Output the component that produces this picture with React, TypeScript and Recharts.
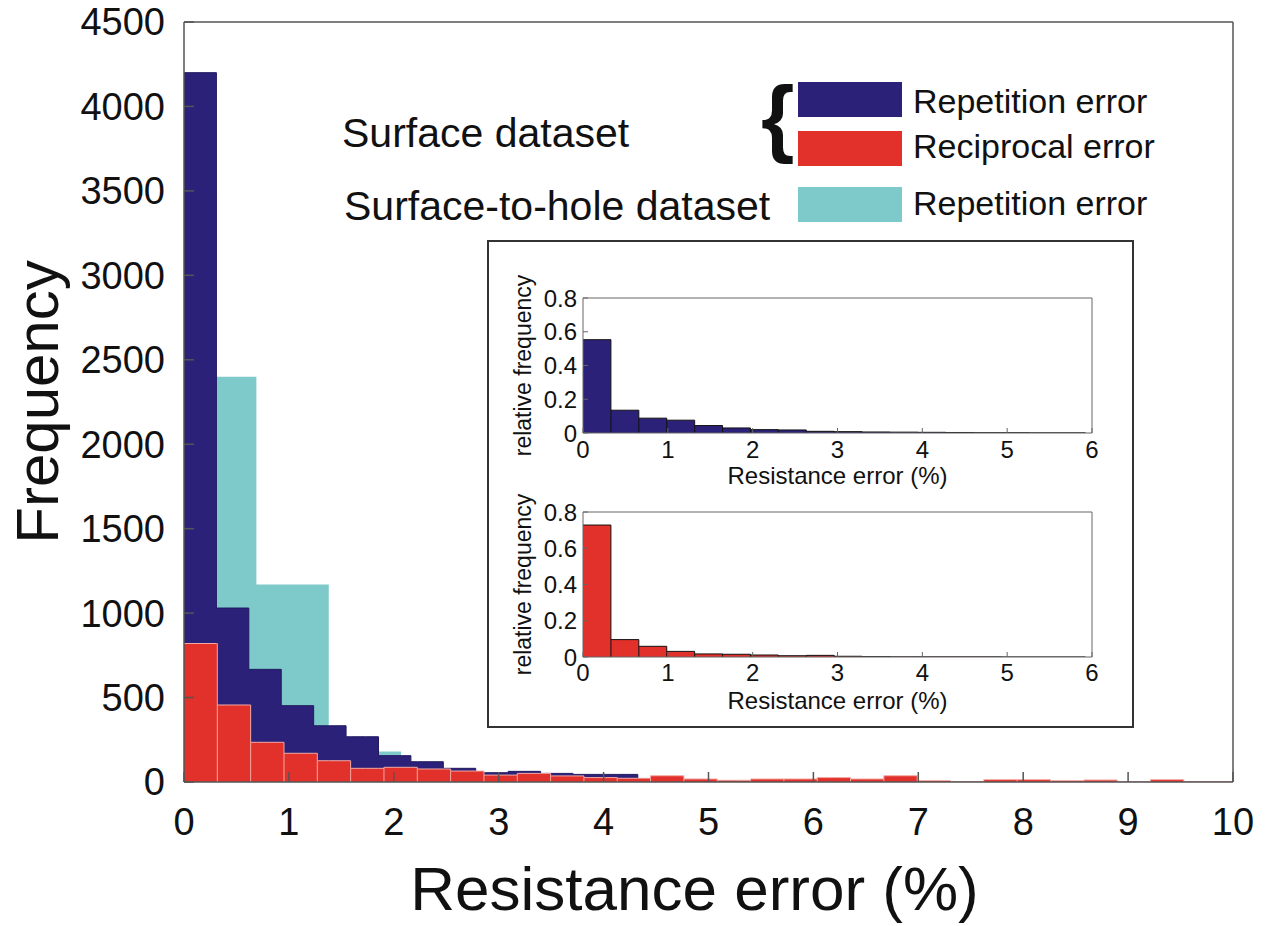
import React from "react";
import { ComposedChart, Area, XAxis, YAxis, ReferenceLine } from "recharts";

const FONT = '"Liberation Sans", Arial, Helvetica, sans-serif';
const BLUE = "#2b2178";
const RED = "#e2302a";
const CYAN = "#7ecaca";
const AXIS = "#555";

// main plot: counts per bin
const xTicks = [0, 1, 2, 3, 4, 5, 6, 7, 8, 9, 10];
const yTicks = [0, 500, 1000, 1500, 2000, 2500, 3000, 3500, 4000, 4500];

const blueBinWidth = 0.309;
const blueCounts = [4200, 1030, 667, 452, 333, 268, 156, 120, 81, 55, 63, 51, 45, 45, 20, 15, 8, 6, 5, 4, 3];

const redBinWidth = 0.3177;
const redCounts = [
  820, 456, 235, 170, 126, 81, 87, 77, 65, 41, 51, 36, 26, 22, 37, 18, 10, 18, 18, 26, 18, 37, 8, 2, 14, 14, 8, 12, 2,
  14, 2, 2,
];

const cyanEdges = [0, 0.309, 0.69, 1.04, 1.38, 1.73, 2.07];
const cyanCounts = [3500, 2400, 1170, 1170, 250, 180];

// insets: relative frequency
const insetXTicks = [0, 1, 2, 3, 4, 5, 6];
const insetYTicks = [0, 0.2, 0.4, 0.6, 0.8];
const insetBinWidth = 0.329;
const insetBlue = [0.553, 0.135, 0.088, 0.076, 0.044, 0.03, 0.02, 0.018, 0.01, 0.008, 0.006, 0.005, 0.004, 0.003, 0.002, 0.002, 0.001, 0.001];
const insetRed = [0.728, 0.096, 0.059, 0.031, 0.017, 0.015, 0.011, 0.007, 0.009, 0.004, 0.002, 0.001, 0.001, 0.001, 0.001, 0.0005, 0.0005, 0.0005];

const legendItems = [
  { label: "Repetition error", color: BLUE },
  { label: "Reciprocal error", color: RED },
  { label: "Repetition error", color: CYAN },
];
const datasetLabels = ["Surface dataset", "Surface-to-hole dataset"];

type Hist = { key: string; edges: number[]; counts: number[] };

function binEdges(width: number, n: number) {
  const e: number[] = [];
  for (let i = 0; i <= n; i++) e.push(+(i * width).toFixed(4));
  return e;
}

function valueAt(h: Hist, x: number) {
  for (let i = 0; i < h.counts.length; i++) {
    if (x >= h.edges[i] - 1e-9 && x < h.edges[i + 1] - 1e-9) return h.counts[i];
  }
  return 0;
}

// merge all bin edges so every series can be drawn as a step area on one x scale
function buildTable(hists: Hist[]) {
  const xs = Array.from(new Set(hists.flatMap((h) => h.edges))).sort((a, b) => a - b);
  return xs.map((x) => {
    const row: Record<string, number> = { x };
    hists.forEach((h) => (row[h.key] = valueAt(h, x)));
    return row;
  });
}

function separators(h: Hist, xMax: number) {
  const out: { x: number; h: number }[] = [];
  for (let i = 1; i < h.counts.length; i++) {
    const top = Math.min(h.counts[i - 1], h.counts[i]);
    if (top > 0 && h.edges[i] < xMax) out.push({ x: h.edges[i], h: top });
  }
  return out;
}

const blueHist: Hist = { key: "blue", edges: binEdges(blueBinWidth, blueCounts.length), counts: blueCounts };
const redHist: Hist = { key: "red", edges: binEdges(redBinWidth, redCounts.length), counts: redCounts };
const cyanHist: Hist = { key: "cyan", edges: cyanEdges, counts: cyanCounts };
const mainTable = buildTable([cyanHist, blueHist, redHist]);

const insetBlueHist: Hist = { key: "v", edges: binEdges(insetBinWidth, insetBlue.length), counts: insetBlue };
const insetRedHist: Hist = { key: "v", edges: binEdges(insetBinWidth, insetRed.length), counts: insetRed };

function MainChart() {
  return (
    <ComposedChart width={1274} height={926} data={mainTable} margin={{ top: 21, right: 40, bottom: 0, left: 0 }}>
      <XAxis
        dataKey="x"
        type="number"
        domain={[0, 10]}
        ticks={xTicks}
        interval={0}
        allowDataOverflow
        height={144}
        tickSize={-10}
        tickMargin={36}
        stroke={AXIS}
        strokeWidth={1.5}
        tick={{ fontSize: 38, fill: "#111" }}
        label={{
          value: "Resistance error (%)",
          position: "insideBottom",
          offset: 16,
          dx: -14,
          fontSize: 62,
          fill: "#111",
          style: { fontSize: 62, fill: "#111" },
        }}
      />
      <XAxis
        xAxisId="top"
        orientation="top"
        type="number"
        domain={[0, 10]}
        ticks={xTicks}
        interval={0}
        allowDataOverflow
        height={1}
        tick={false}
        tickSize={-10}
        stroke={AXIS}
        strokeWidth={1.5}
      />
      <YAxis
        type="number"
        domain={[0, 4500]}
        ticks={yTicks}
        interval={0}
        allowDataOverflow
        width={184}
        tickSize={-10}
        tickMargin={29}
        stroke={AXIS}
        strokeWidth={1.5}
        tick={{ fontSize: 38, fill: "#111" }}
        label={{
          value: "Frequency",
          angle: -90,
          position: "insideLeft",
          offset: 37,
          fontSize: 60,
          fill: "#111",
          style: { textAnchor: "middle", fontSize: 60, fill: "#111" },
        }}
      />
      <YAxis
        yAxisId="right"
        orientation="right"
        type="number"
        domain={[0, 4500]}
        ticks={yTicks}
        interval={0}
        width={1}
        tick={false}
        tickSize={-10}
        stroke={AXIS}
        strokeWidth={1.5}
      />
      <Area type="stepAfter" dataKey="cyan" fill={CYAN} fillOpacity={1} stroke="none" dot={false} activeDot={false} isAnimationActive={false} />
      <Area type="stepAfter" dataKey="blue" fill={BLUE} fillOpacity={1} stroke="#221a62" strokeWidth={1} dot={false} activeDot={false} isAnimationActive={false} />
      <Area type="stepAfter" dataKey="red" fill={RED} fillOpacity={1} stroke="#f2aaa3" strokeWidth={1} dot={false} activeDot={false} isAnimationActive={false} />
      {separators(redHist, 10).map((s) => (
        <ReferenceLine
          key={"r" + s.x}
          segment={[
            { x: s.x, y: 0 },
            { x: s.x, y: s.h },
          ]}
          stroke="#f2aaa3"
          strokeWidth={1}
        />
      ))}
    </ComposedChart>
  );
}

function InsetChart({
  hist,
  color,
  height,
  xTickMargin,
  titleOffset,
}: {
  hist: Hist;
  color: string;
  height: number;
  xTickMargin: number;
  titleOffset: number;
}) {
  const data = buildTable([hist]);
  return (
    <ComposedChart width={620} height={height} data={data} margin={{ top: 25, right: 26, bottom: 0, left: 0 }}>
      <XAxis
        dataKey="x"
        type="number"
        domain={[0, 6]}
        ticks={insetXTicks}
        interval={0}
        allowDataOverflow
        height={59}
        tickSize={-5}
        tickMargin={xTickMargin}
        stroke="#666"
        tick={{ fontSize: 24, fill: "#111" }}
        label={{
          value: "Resistance error (%)",
          position: "insideBottom",
          offset: titleOffset,
          fontSize: 24,
          fill: "#111",
          style: { fontSize: 24, fill: "#111" },
        }}
      />
      <XAxis
        xAxisId="top"
        orientation="top"
        type="number"
        domain={[0, 6]}
        ticks={insetXTicks}
        interval={0}
        height={1}
        tick={false}
        tickSize={-5}
        stroke="#666"
      />
      <YAxis
        type="number"
        domain={[0, 0.8]}
        ticks={insetYTicks}
        interval={0}
        allowDataOverflow
        width={84}
        tickSize={-5}
        tickMargin={11}
        stroke="#666"
        tick={{ fontSize: 24, fill: "#111" }}
        tickFormatter={(v: number) => (v === 0 ? "0" : v.toFixed(1))}
        label={{
          value: "relative frequency",
          angle: -90,
          position: "insideLeft",
          offset: 24,
          fontSize: 23,
          fill: "#111",
          style: { textAnchor: "middle", fontSize: 23, fill: "#111" },
        }}
      />
      <YAxis
        yAxisId="right"
        orientation="right"
        type="number"
        domain={[0, 0.8]}
        ticks={insetYTicks}
        interval={0}
        width={1}
        tick={false}
        tickSize={-5}
        stroke="#666"
      />
      <Area type="stepAfter" dataKey="v" fill={color} fillOpacity={1} stroke="#111" strokeWidth={1} dot={false} activeDot={false} isAnimationActive={false} />
      {separators(hist, 6).map((s) => (
        <ReferenceLine
          key={"s" + s.x}
          segment={[
            { x: s.x, y: 0 },
            { x: s.x, y: s.h },
          ]}
          stroke="#111"
          strokeWidth={1}
        />
      ))}
    </ComposedChart>
  );
}

function LegendOverlay() {
  const rectY = [82, 131, 187];
  const textY = [113, 158, 215];
  return (
    <svg width={1274} height={926} style={{ position: "absolute", left: 0, top: 0, pointerEvents: "none" }}>
      <text x={342} y={147} fontSize={41} fill="#111">
        {datasetLabels[0]}
      </text>
      <text x={344} y={220} fontSize={41} fill="#111">
        {datasetLabels[1]}
      </text>
      <text x={761} y={146} fontSize={86} fontWeight="bold" fill="#111">
        {"{"}
      </text>
      {legendItems.map((it, i) => (
        <g key={i}>
          <rect x={798} y={rectY[i]} width={104} height={35} fill={it.color} />
          <text x={913} y={textY[i]} fontSize={34} fill="#111">
            {it.label}
          </text>
        </g>
      ))}
    </svg>
  );
}

function InsetBox() {
  return (
    <div
      style={{
        position: "absolute",
        left: 487,
        top: 240,
        width: 647,
        height: 488,
        border: "2px solid #333",
        boxSizing: "border-box",
        background: "#fff",
      }}
    >
      <div style={{ position: "absolute", left: 10, top: 30 }}>
        <InsetChart hist={insetBlueHist} color={BLUE} height={220} xTickMargin={13} titleOffset={8} />
      </div>
      <div style={{ position: "absolute", left: 10, top: 244 }}>
        <InsetChart hist={insetRedHist} color={RED} height={230} xTickMargin={12} titleOffset={7} />
      </div>
    </div>
  );
}

export default function App() {
  return (
    <div
      style={{
        position: "absolute",
        left: 0,
        top: 0,
        width: 1274,
        height: 926,
        overflow: "hidden",
        background: "#fff",
        fontFamily: FONT,
      }}
    >
      <MainChart />
      <LegendOverlay />
      <InsetBox />
    </div>
  );
}
